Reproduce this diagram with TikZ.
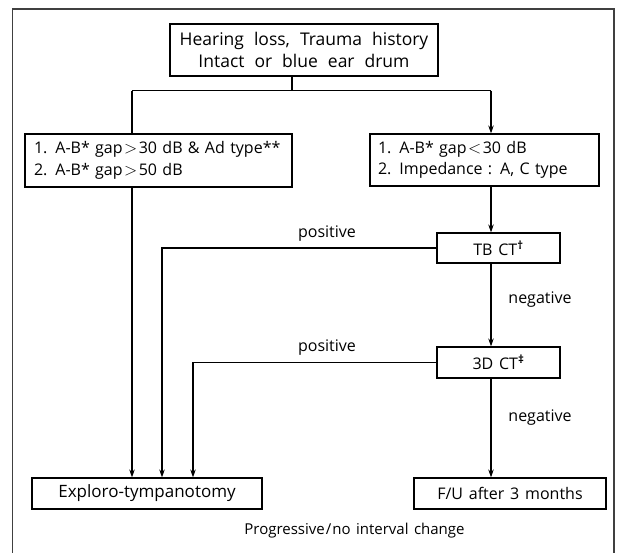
\documentclass[tikz,border=0pt]{standalone}
\usepackage{fontspec}
\setmainfont[WordSpace=1.4]{Open Sans}
\newfontfamily\topfont[WordSpace=2.2]{Open Sans}
\usetikzlibrary{arrows.meta}
\newcommand{\mygt}{\kern1.5pt${>}$\kern1.5pt}
\newcommand{\mylt}{\kern1.5pt${<}$\kern1.5pt}
\begin{document}
\begin{tikzpicture}[x=1pt,y=-1pt,
  box/.style={draw, line width=1.2pt, inner sep=0pt, font=\fontsize{16}{21.5}\selectfont},
  conn/.style={line width=1.1pt},
  arr/.style={conn, -{Stealth[length=8pt,width=5.5pt]}},
  lab/.style={font=\fontsize{16}{18}\selectfont, inner sep=0pt}]
\useasboundingbox (0,0) rectangle (620,552);
\draw[line width=1.3pt, black!75] (12.7,560) -- (12.7,9) -- (614,9) -- (614,560);
% nodes
\node[box, minimum width=268pt, minimum height=52pt, align=center,
  font=\topfont\fontsize{17.5}{21.5}\selectfont] (top) at (304,50)
  {Hearing loss, Trauma history\\Intact or blue ear drum};
\node[box, minimum width=267pt, minimum height=53pt, text width=249pt, align=left] (left) at (158.5,160.5)
  {1. A-B* gap\mygt30 dB \& Ad type**\\2. A-B* gap\mygt50 dB};
\node[box, minimum width=229pt, minimum height=52pt, text width=213pt, align=left] (right) at (484.5,160)
  {1. A-B* gap\mylt30 dB\\2. Impedance : A, C type};
\node[box, minimum width=123pt, minimum height=30pt] (tbct) at (498.5,248) {TB CT\textsuperscript{\textbf{†}}};
\node[box, minimum width=123pt, minimum height=31pt] (ct3d) at (498.5,362.5) {3D CT\textsuperscript{\textbf{‡}}};
\node[box, minimum width=230pt, minimum height=31pt, font=\fontsize{17}{21}\selectfont] (exp) at (147,493.5) {Exploro-tympanotomy};
\node[box, minimum width=192pt, minimum height=31pt] (fu) at (510,493.5) {F/U after 3 months};
% helper coordinates
\coordinate (stem) at (292,90.7);
\coordinate (bl) at (132,90.7);
\coordinate (br) at (491,90.7);
\coordinate (p1) at (162,248);
\coordinate (p2) at (193,362.5);
% connectors
\draw[conn] (top.south -| stem) -- (stem);
\draw[conn] (bl) -- (br);
\draw[conn] (bl) -- (left.north -| bl);
\draw[arr] (br) -- (right.north -| br);
\draw[arr] (left.south -| bl) -- (exp.north -| bl);
\draw[arr] (right.south -| br) -- (tbct.north -| br);
\draw[arr] (tbct.south -| br) -- (ct3d.north -| br);
\draw[arr] (ct3d.south -| br) -- (fu.north -| br);
\draw[arr] (tbct.west) -- (p1) -- (exp.north -| p1);
\draw[arr] (ct3d.west) -- (p2) -- (exp.north -| p2);
% labels
\node[lab] (pos1) at (327,234) {positive};
\node[lab] (pos2) at (327,348) {positive};
\node[lab] (neg1) at (540,300) {negative};
\node[lab] (neg2) at (540,418) {negative};
\node[lab, font=\fontsize{15}{18}\selectfont] (prog) at (354.5,531) {Progressive\kern1pt/\kern1pt no interval change};
\end{tikzpicture}
\end{document}
